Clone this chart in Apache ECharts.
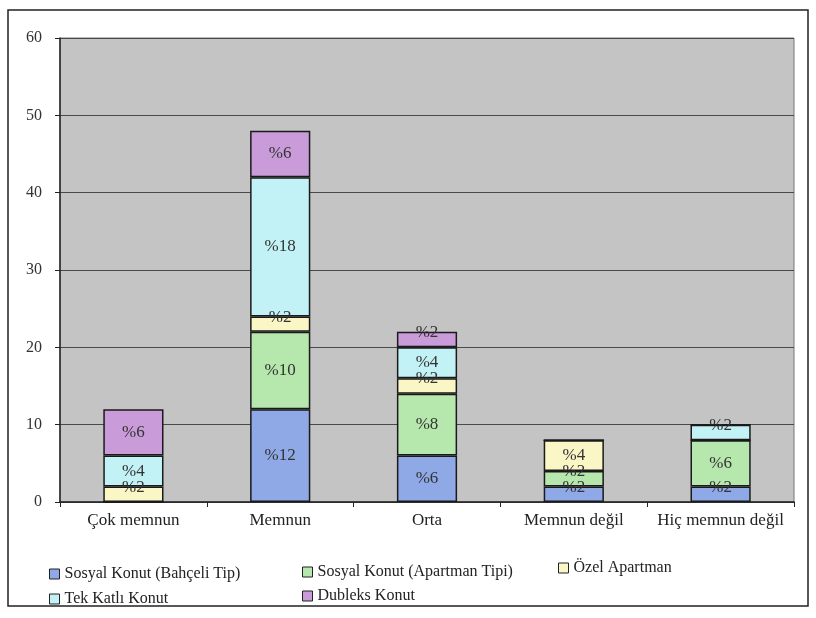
<!DOCTYPE html>
<html>
<head>
<meta charset="utf-8">
<script src="https://cdn.jsdelivr.net/npm/echarts@6/dist/echarts.min.js"></script>
<style>
  html, body { margin: 0; padding: 0; background: #fff; }
  #chart { width: 816px; height: 618px; }
</style>
</head>
<body>
<div id="chart"></div>
<script>
// memnuniyet düzeyi
var categories = ['Çok memnun', 'Memnun', 'Orta', 'Memnun değil', 'Hiç memnun değil'];

var seriesNames = ['Sosyal Konut (Bahçeli Tip)', 'Sosyal Konut (Apartman Tipi)', 'Özel Apartman', 'Tek Katlı Konut', 'Dubleks Konut'];
var bahceli   = [0, 12, 6, 2, 2];
var apartman  = [0, 10, 8, 2, 6];
var ozel      = [2, 2, 2, 4, 0];
var tekKatli  = [4, 18, 4, 0, 2];
var dubleks   = [6, 6, 2, 0, 0];

var yTicks = [0, 10, 20, 30, 40, 50, 60];

var colors = ['#8fa9e6', '#b6e8ae', '#fbf6c6', '#c2f2f6', '#c99bd9'];
var serif = '"Liberation Serif", "DejaVu Serif", serif';

function makeSeries(name, values, color){
    return {
        name: name,
        type: 'bar',
        stack: 'toplam',
        barWidth: '41%',
        itemStyle: {color: color, borderColor: '#1a1a1a', borderWidth: 1.5},
        label: {
            show: true,
            position: 'inside',
            fontFamily: serif,
            fontSize: 17,
            color: '#333',
            formatter: function (p) { return p.value ? '%' + p.value : ''; }
        },
        // küçük dilimlerde etiket biraz yukarıda
        data: values.map(function (v) {
            return v > 0 && v <= 2 ? {value: v, label: {offset: [0, -7]}} : v;
        })
    };
}

var allValues = [bahceli, apartman, ozel, tekKatli, dubleks];

var legendPos = [
    {left: 44, top: 561},
    {left: 297, top: 559},
    {left: 553, top: 555},
    {left: 44, top: 586},
    {left: 297, top: 583}
];

var option = {
    backgroundColor: '#fff',
    animation: false,
    grid: {
        left: 60,
        right: 22,
        top: 38,
        bottom: 116,
        show: true,
        backgroundColor: '#c4c4c4',
        borderColor: '#777',
        borderWidth: 1
    },
    legend: seriesNames.map(function (n, i) {
        return {
            data: [n],
            left: legendPos[i].left,
            top: legendPos[i].top,
            icon: 'rect',
            itemWidth: 10,
            itemHeight: 10,
            itemGap: 4,
            selectedMode: false,
            itemStyle: {borderColor: '#222', borderWidth: 1},
            textStyle: {fontFamily: serif, fontSize: 16, color: '#222'}
        };
    }),
    xAxis: {
        type: 'category',
        data: categories,
        axisLine: {lineStyle: {color: '#222', width: 1.5}},
        axisTick: {show: true, interval: 0, length: 5, lineStyle: {color: '#222'}},
        axisLabel: {interval: 0, fontFamily: serif, fontSize: 17, color: '#222', margin: 10}
    },
    yAxis: {
        type: 'value',
        min: yTicks[0],
        max: yTicks[yTicks.length - 1],
        interval: 10,
        axisLine: {show: true, lineStyle: {color: '#222', width: 1.5}},
        axisTick: {show: true, length: 5, lineStyle: {color: '#222'}},
        axisLabel: {fontFamily: serif, fontSize: 16, color: '#333', margin: 18},
        splitLine: {show: true, lineStyle: {color: '#4a4a4a', width: 1}}
    },
    graphic: [
        {
            type: 'rect',
            shape: {x: 8, y: 10, width: 800, height: 596},
            style: {fill: 'none', stroke: '#222', lineWidth: 1.5},
            silent: true
        }
    ],
    series: seriesNames.map(function (n, i) {
        return makeSeries(n, allValues[i], colors[i]);
    })
};

var myChart = echarts.init(document.getElementById('chart'));
myChart.setOption(option);
</script>
</body>
</html>
